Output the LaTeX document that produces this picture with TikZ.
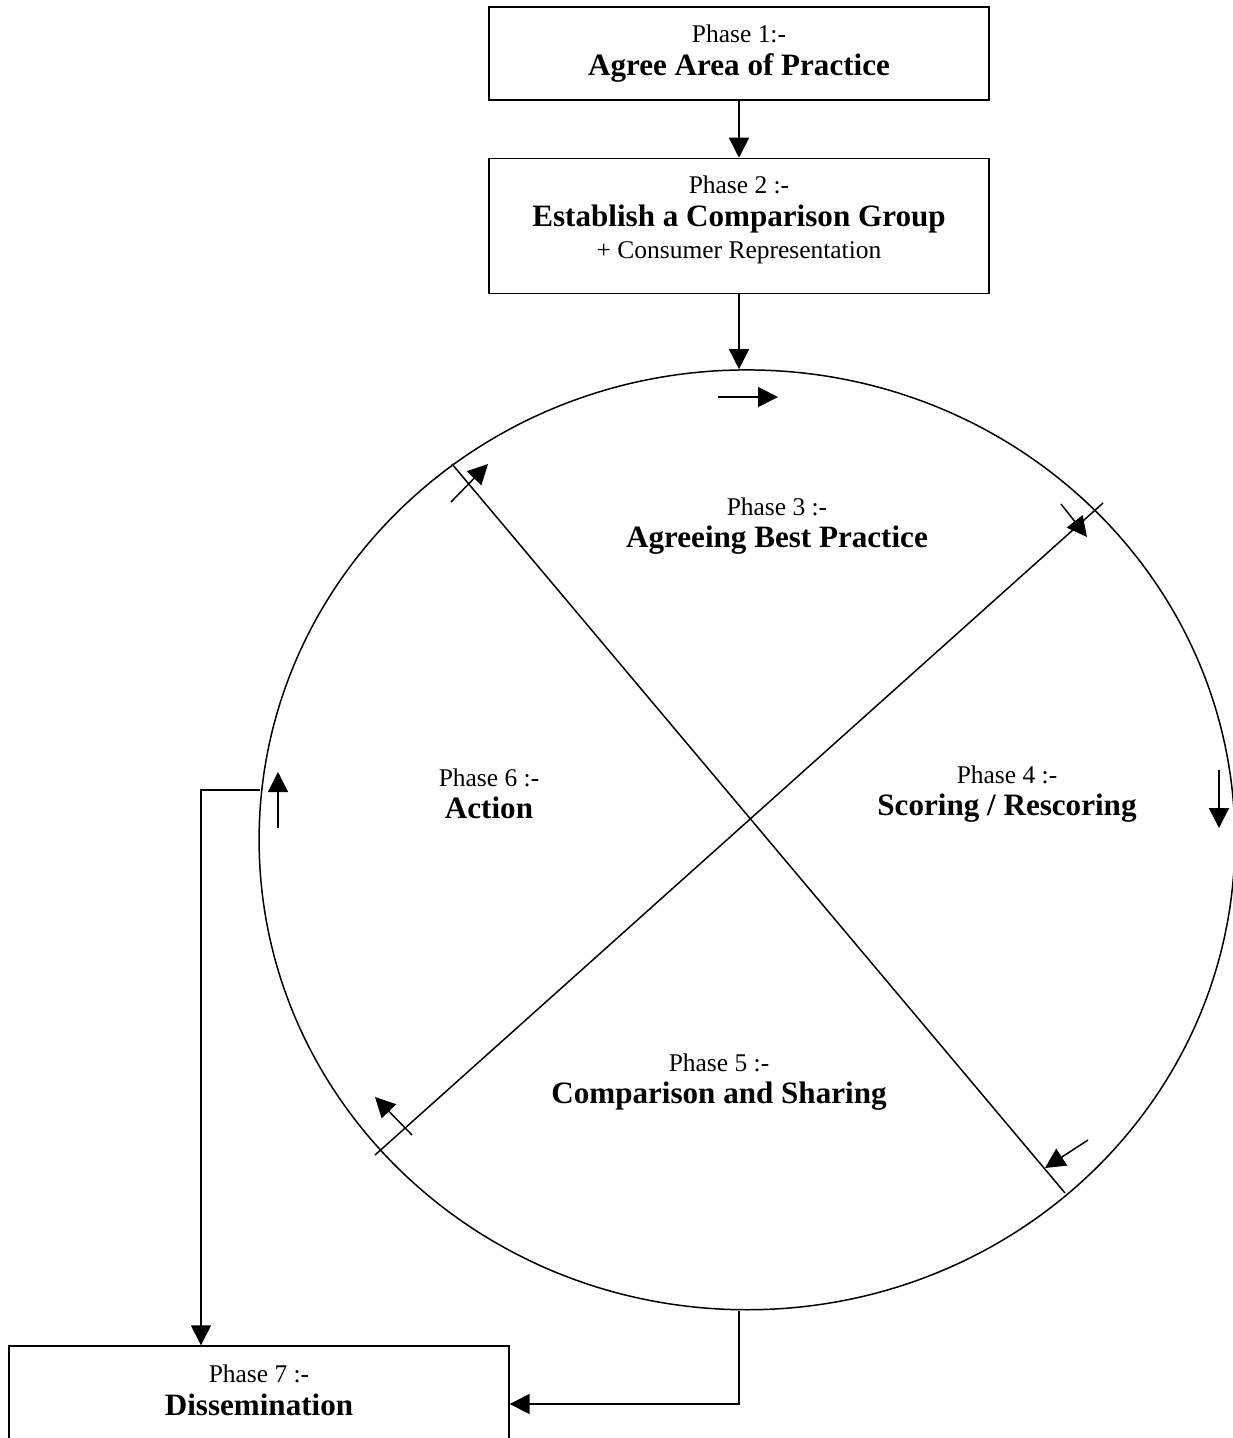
\documentclass[tikz,border=0pt]{standalone}
\usepackage{fontspec}
\setmainfont{Liberation Serif}
\usetikzlibrary{arrows.meta,shapes.geometric,positioning}

\newcommand{\phasetitle}[1]{{\fontsize{17.7pt}{19pt}\selectfont\bfseries #1}}

\begin{document}
\begin{tikzpicture}[
    x=0.02cm, y=-0.02cm,
    phasebox/.style={rectangle, draw, line width=0.85pt, minimum width=10cm,
        minimum height=1.86cm, align=center, inner sep=0pt,
        font=\fontsize{14.5pt}{18.5pt}\selectfont},
    phasetext/.style={align=center, inner sep=0pt,
        font=\fontsize{14.5pt}{18.5pt}\selectfont},
    arrow/.style={-{Triangle[length=0.4cm, width=0.4cm]}, line width=0.85pt},
    spoke/.style={line width=0.85pt}
]
    \useasboundingbox (0,0) rectangle (1232,1438);

    \node[phasebox] (box1) at (739,53.5) {Phase 1:-\\ \phasetitle{Agree Area of Practice}};
    \node[phasebox, minimum height=2.7cm, below=1.14cm of box1] (box2)
        {Phase 2 :-\\ \phasetitle{Establish a Comparison Group}\\ + Consumer Representation\\[-9pt]\mbox{}};
    \node[ellipse, draw, line width=0.85pt, minimum width=19.52cm, minimum height=18.8cm,
        inner sep=0pt, below=1.5cm of box2, xshift=0.16cm] (ring) {};
    \node[phasebox] (box7) at (259,1392.5) {Phase 7 :-\\ \phasetitle{Dissemination}\\[-16pt]\mbox{}};

    % phases round the cycle
    \node[phasetext] (p3) at (777,526) {Phase 3 :-\\ \phasetitle{Agreeing Best Practice}};
    \node[phasetext] (p4) at (1007,794) {Phase 4 :-\\ \phasetitle{Scoring / Rescoring}};
    \node[phasetext] (p5) at (719,1082) {Phase 5 :-\\ \phasetitle{Comparison and Sharing}};
    \node[phasetext] (p6) at (489,794) {Phase 6 :-\\ \phasetitle{Action}};

    % dividing lines
    \draw[spoke] (452,464) -- (1065,1193);
    \draw[spoke] (375,1155) -- (1103,503);

    % direction of the cycle
    \draw[arrow] (718,397) -- (778,397);
    \draw[arrow] (1061,504) -- (1087,537);
    \draw[arrow] (1219,770) -- (1219,828);
    \draw[arrow] (1088,1140) -- (1045,1168);
    \draw[arrow] (412,1135) -- (375,1097);
    \draw[arrow] (278,828) -- (278,772);
    \draw[arrow] (451,502) -- (488,464);

    % connectors
    \coordinate (tap) at (260,790);
    \coordinate (bend) at (201,790);
    \draw[arrow] (box1) -- (box2);
    \draw[arrow] (box2.south) -- (box2.south |- ring.north);
    \draw[arrow] (box2.south |- ring.south) |- ([yshift=-0.23cm]box7.east);
    \draw[arrow] (tap) -- (bend) -- (bend |- box7.north);
\end{tikzpicture}
\end{document}
